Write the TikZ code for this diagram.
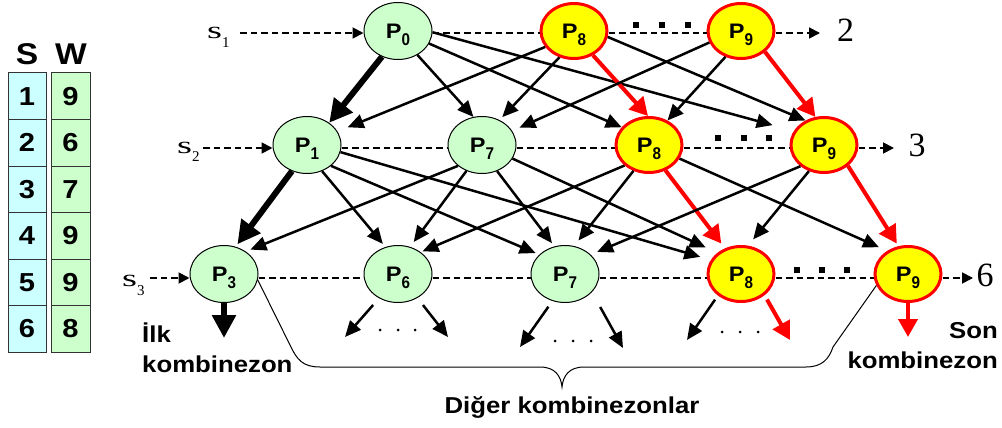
\documentclass[tikz,border=0pt]{standalone}
\usepackage{fontspec}
\setmainfont{Liberation Sans}[FakeStretch=1.12]
\newfontfamily\tnr{Liberation Serif}
\usepackage{graphicx}
\usetikzlibrary{shapes.geometric,arrows.meta}
\definecolor{lgreen}{HTML}{CCFFCC}
\definecolor{lcyan}{HTML}{CCFFFF}
\definecolor{yel}{HTML}{FFFF00}
\definecolor{rd}{HTML}{FF0000}
\newcommand\Pn[1]{P\raisebox{-7pt}{\fontsize{17}{17}\selectfont\scalebox{0.8}[1]{#1}}}
\newcommand\slab[1]{{\tnr\fontsize{24}{24}\selectfont\scalebox{1.6}[1]{s}\raisebox{-9pt}{\fontsize{15}{15}\selectfont #1}}}
\begin{document}
\begin{tikzpicture}[x=1pt,y=-1pt,
  every node/.style={inner sep=0pt},
  gnode/.style={ellipse,draw=black,line width=1pt,fill=lgreen,minimum width=68pt,minimum height=57pt,font=\fontsize{21}{21}\selectfont\bfseries,text depth=0pt},
  ynode/.style={gnode,draw=rd,fill=yel,line width=3pt,minimum width=66pt,minimum height=55pt},
  blk/.style={line width=2.5pt,-{Triangle[length=16pt,width=14pt]}},
  thk/.style={line width=6pt,-{Triangle[length=23pt,width=23pt]}},
  redarr/.style={line width=4pt,color=rd,-{Triangle[length=18pt,width=19pt]}},
  dsh/.style={line width=1.8pt,dash pattern=on 6.5pt off 4pt},
  dsharr/.style={dsh,-{Triangle[length=11pt,width=11pt]}},
  sqdot/.style={rectangle,fill=black,minimum size=6.5pt},
  rdot/.style={circle,fill=black,minimum size=3pt},
  cellS/.style={rectangle,draw=black!80,line width=1pt,fill=lcyan,minimum width=38pt,minimum height=46.5pt,font=\fontsize{26}{26}\selectfont\bfseries},
  cellW/.style={cellS,fill=lgreen,minimum width=39pt},
  hdr/.style={font=\fontsize{30}{30}\selectfont\bfseries},
  lab/.style={font=\fontsize{23}{23}\selectfont\bfseries},
  num/.style={font=\tnr\fontsize{34}{34}\selectfont},
]
\useasboundingbox (0,0) rectangle (1002,428);

% table
\node[hdr] (hS) at (27,54) {S};
\node[hdr] (hW) at (71,54) {W};
\foreach \i/\sv/\wv in {0/1/9,1/2/6,2/3/7,3/4/9,4/5/9,5/6/8}{
  \node[cellS] (c\i) at (27,96.25+46.5*\i) {\sv};
  \node[cellW] (w\i) at (70.5,96.25+46.5*\i) {\wv};
}

% nodes
\node[gnode] (P0) at (398,31) {\Pn{0}};
\node[ynode] (P8a) at (574,31) {\Pn{8}};
\node[ynode] (P9a) at (741,31) {\Pn{9}};
\node[gnode] (P1) at (307,145) {\Pn{1}};
\node[gnode] (P7a) at (482,145) {\Pn{7}};
\node[ynode] (P8b) at (649,145) {\Pn{8}};
\node[ynode] (P9b) at (824,145) {\Pn{9}};
\node[gnode] (P3) at (224,274) {\Pn{3}};
\node[gnode] (P6) at (398,274) {\Pn{6}};
\node[gnode] (P7b) at (565,274) {\Pn{7}};
\node[ynode] (P8c) at (741,274) {\Pn{8}};
\node[ynode] (P9c) at (908,274) {\Pn{9}};

% side labels
\node[anchor=base west] (s1) at (207,39) {\slab{1}};
\node[anchor=base west] (s2) at (177,153) {\slab{2}};
\node[anchor=base west] (s3) at (122,286) {\slab{3}};
\node[num] (n2) at (845.5,30) {2};
\node[num] (n3) at (917,145) {3};
\node[num] (n6) at (985,275) {6};

\coordinate (s1e) at (240,33);
\coordinate (s2e) at (203,148);
\coordinate (s3e) at (150,278);
\coordinate (t2) at (820,33);
\coordinate (t3) at (894,148);
\coordinate (t6) at (973,278);

% dashed rows
\draw[dsharr] (s1e) -- ([yshift=-2pt]P0.west);
\draw[dsh] ([yshift=-2pt]P0.east) -- ([yshift=-2pt]P8a.west);
\draw[dsh] ([yshift=-2pt]P8a.east) -- ([yshift=-2pt]P9a.west);
\draw[dsharr] ([yshift=-2pt]P9a.east) -- (t2);
\draw[dsharr] (s2e) -- ([yshift=-3pt]P1.west);
\draw[dsh] ([yshift=-3pt]P1.east) -- ([yshift=-3pt]P7a.west);
\draw[dsh] ([yshift=-3pt]P7a.east) -- ([yshift=-3pt]P8b.west);
\draw[dsh] ([yshift=-3pt]P8b.east) -- ([yshift=-3pt]P9b.west);
\draw[dsharr] ([yshift=-3pt]P9b.east) -- (t3);
\draw[dsharr] (s3e) -- ([yshift=-4pt]P3.west);
\draw[dsh] ([yshift=-4pt]P3.east) -- ([yshift=-4pt]P6.west);
\draw[dsh] ([yshift=-4pt]P6.east) -- ([yshift=-4pt]P7b.west);
\draw[dsh] ([yshift=-4pt]P7b.east) -- ([yshift=-4pt]P8c.west);
\draw[dsh] ([yshift=-4pt]P8c.east) -- ([yshift=-4pt]P9c.west);
\draw[dsharr] ([yshift=-4pt]P9c.east) -- (t6);

% square dots
\foreach \x in {636,662,688} \node[sqdot] at (\x,25) {};
\foreach \x in {718,744,769} \node[sqdot] at (\x,138) {};
\foreach \x in {797,822,847} \node[sqdot] at (\x,270) {};

% row 1 -> row 2
\draw[thk] (P0.-122) -- (P1.45);
\draw[blk] (P0.-51) -- (P7a.107);
\draw[blk] (P0.-22) -- (P8b.147);
\draw[blk,shorten >=22pt] (P0.-2) -- (P9b.155);
\draw[blk,shorten >=11pt] (P8a.-151) -- (P1.24);
\draw[blk,shorten >=4pt] (P8a.-119) -- (P7a.55);
\draw[redarr] (P8a.-52) -- (P8b.92);
\draw[blk] (P8a.-10) -- (P9b.127);
\draw[blk,shorten >=8pt] (P9a.-160) -- (P7a.25);
\draw[blk] (P9a.-121) -- (P8b.53);
\draw[redarr] (P9a.-41) -- (P9b.107);

% row 2 -> row 3
\draw[thk,shorten >=3pt] (P1.-120) -- (P3.67);
\draw[blk,shorten >=4pt] (P1.-60) -- (P6.115);
\draw[blk,shorten >=4pt] (P1.-41) -- (P7b.143);
\draw[blk,shorten >=11pt] (P1.-12) -- (P8c.155);
\draw[blk,shorten >=5pt] (P7a.-139) -- (P3.46);
\draw[blk,shorten >=6pt] (P7a.-121) -- (P6.66);
\draw[blk,shorten >=4pt] (P7a.-60) -- (P7b.111);
\draw[blk,shorten >=13pt] (P7a.-24) -- (P8c.138);
\draw[blk,shorten >=2pt] (P8b.-140) -- (P6.44);
\draw[blk,shorten >=7pt] (P8b.-121) -- (P7b.72);
\draw[redarr,shorten >=6pt] (P8b.-57) -- (P8c.122);
\draw[blk,shorten >=9pt] (P8b.-24) -- (P9c.132);
\draw[blk,shorten >=7pt] (P9b.-138) -- (P7b.37);
\draw[blk,shorten >=8pt] (P9b.-120) -- (P8c.76);
\draw[redarr,shorten >=3pt] (P9b.-41) -- (P9c.109);

% row 3 -> further
\coordinate (e3) at (224,338);
\coordinate (e6l) at (345,337);
\coordinate (e6r) at (448,337);
\coordinate (e7l) at (520,347);
\coordinate (e7r) at (623,348);
\coordinate (e8l) at (687,340);
\coordinate (e8r) at (790,340);
\coordinate (e9) at (908,337);
\draw[thk] (P3.-90) -- (e3);
\draw[blk,shorten <=9pt] (P6.-128) -- (e6l);
\draw[blk,shorten <=9pt] (P6.-51) -- (e6r);
\draw[blk,shorten <=7pt] (P7b.-115) -- (e7l);
\draw[blk,shorten <=17pt] (P7b.-34) -- (e7r);
\draw[blk,shorten <=5pt] (P8c.-137) -- (e8l);
\draw[redarr,shorten <=5pt] (P8c.-42) -- (e8r);
\draw[redarr] (P9c.-90) -- (e9);

% small dots
\foreach \x in {380,398,415} \node[rdot] at (\x,330) {};
\foreach \x in {555,573,591} \node[rdot] at (\x,341) {};
\foreach \x in {722,740,758} \node[rdot] at (\x,332) {};

% brace
\draw[line width=1pt] (P3.-10) -- (290,345) .. controls (297,360) and (303,367) .. (320,367) -- (540,367) .. controls (555,367) and (561,376) .. (562,387) .. controls (563,376) and (569,367) .. (584,367) -- (806,367) .. controls (822,367) and (829,359) .. (833,347) -- (P9c.200);

% bottom labels
\node[lab,anchor=base west] (ilk) at (142,342) {İlk};
\node[lab,anchor=base west] (k1) at (142,372) {kombinezon};
\node[lab,anchor=base east] (son) at (998,338) {Son};
\node[lab,anchor=base east] (k2) at (998,368) {kombinezon};
\node[lab,anchor=base] (dig) at (572,413) {Diğer kombinezonlar};
\end{tikzpicture}
\end{document}
